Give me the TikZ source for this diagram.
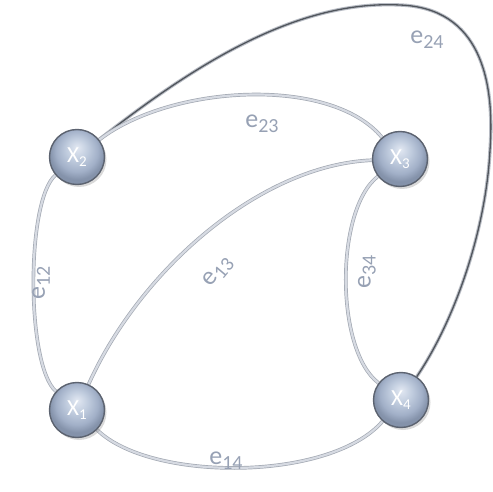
\documentclass[tikz,border=0pt]{standalone}
\usepackage{fontspec}
\setmainfont{Carlito}
\usetikzlibrary{shadows,backgrounds}
\definecolor{edgefill}{HTML}{D6DAE2}
\definecolor{edgeline}{HTML}{A2A8B2}
\definecolor{darkedge}{HTML}{50555C}
\definecolor{darkhalo}{HTML}{B8BCC4}
\definecolor{ballrim}{HTML}{5C6370}
\definecolor{lblc}{HTML}{97A1B4}
\definecolor{bA}{HTML}{E2E8F2}
\definecolor{bB}{HTML}{C0CCDE}
\definecolor{bC}{HTML}{A2B0C8}
\definecolor{bD}{HTML}{8492AA}
\pgfdeclareradialshading{glassball}{\pgfpoint{0bp}{9bp}}{%
  color(0bp)=(bA); color(10bp)=(bB); color(19bp)=(bC); color(25bp)=(bD); color(50bp)=(bD)}
\newcommand\vlab[1]{X\raisebox{-4pt}{\fontsize{15}{15}\selectfont #1}}
\newcommand\elab[1]{e\raisebox{-5pt}{\fontsize{20}{20}\selectfont #1}}
\begin{document}
\begin{tikzpicture}[x=1pt,y=-1pt,
  vertex/.style={circle, minimum size=55pt, inner sep=0pt, draw=ballrim, line width=1.4pt,
    shading=glassball, text=white, font=\fontsize{23}{23}\selectfont,
    drop shadow={shadow xshift=2pt, shadow yshift=-2.5pt, opacity=0.3}},
  edgeA/.style={draw=edgeline, line width=3.6pt, postaction={draw=edgefill, line width=2.2pt}},
  edgeB/.style={draw=darkhalo, line width=3.4pt, postaction={draw=darkedge, line width=1.3pt}},
  elabel/.style={text=lblc, font=\fontsize{26}{26}\selectfont, inner sep=1pt}
]
\useasboundingbox (0,0) rectangle (493,492);
\node[vertex] (x2) at (77,157) {\vlab{2}};
\node[vertex] (x3) at (400,159) {\vlab{3}};
\node[vertex] (x1) at (77,410) {\vlab{1}};
\node[vertex] (x4) at (401,400) {\vlab{4}};
\begin{scope}[on background layer]
  \draw[edgeB] (x2) .. controls (200,60) and (300,0) .. (400,5)
     .. controls (480,8) and (495,80) .. (490,150)
     .. controls (486,230) and (455,320) .. (x4);
  \draw[edgeA] (x2) .. controls (170,85) and (330,75) .. (x3);
  \draw[edgeA] (x1) .. controls (140,270) and (260,165) .. (x3);
  \draw[edgeA] (x2) .. controls (26,200) and (26,365) .. (x1);
  \draw[edgeA] (x3) .. controls (335,210) and (335,350) .. (x4);
  \draw[edgeA] (x1) .. controls (150,482) and (330,482) .. (x4);
\end{scope}
\node[elabel, rotate=90] (l12) at (41,283) {\elab{12}};
\node[elabel, rotate=50] (l13) at (218,272) {\elab{13}};
\node[elabel, rotate=90] (l34) at (367,272) {\elab{34}};
\node[elabel] (l23) at (262,124) {\elab{23}};
\node[elabel] (l24) at (427,40) {\elab{24}};
\node[elabel] (l14) at (226,461) {\elab{14}};
\end{tikzpicture}
\end{document}
